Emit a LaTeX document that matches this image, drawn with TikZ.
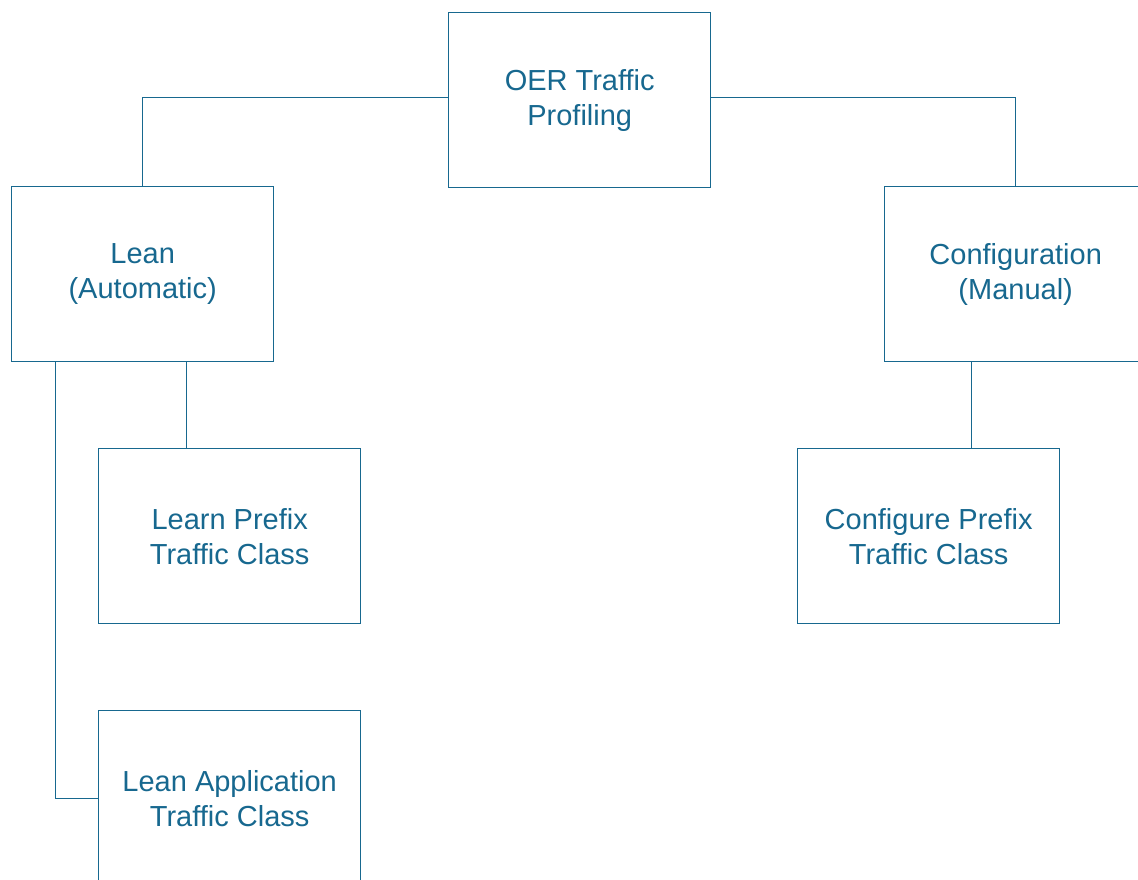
\documentclass[tikz,border=0pt]{standalone}
\usepackage{fontspec}
\usetikzlibrary{calc}
\setmainfont{Liberation Sans}
\definecolor{ink}{HTML}{17688F}
\begin{document}
\begin{tikzpicture}[x=1pt,y=-1pt,
  box/.style={draw=ink,line width=1.4pt,minimum width=262pt,minimum height=175pt,
    inner sep=0pt,anchor=north west,align=center,text=ink,
    font=\fontsize{29}{35}\selectfont},
  link/.style={draw=ink,line width=0.9pt}]
\useasboundingbox (0,0) rectangle (1138,879);
\clip (0,0) rectangle (1138,879);
\node[box] (top) at (448,12) {OER Traffic\\Profiling};
\node[box] (lean) at (11,186) {Lean\\(Automatic)};
\node[box] (conf) at (884,186) {Configuration\\(Manual)};
\node[box] (lpre) at (98,448) {Learn Prefix\\Traffic Class};
\node[box] (lapp) at (98,710) {Lean Application\\Traffic Class};
\node[box] (cpre) at (797,448) {Configure Prefix\\Traffic Class};
% branch points on the lower edges of the two parent boxes
\coordinate (leanA) at ($(lean.south west)+(175,0)$);
\coordinate (leanB) at ($(lean.south west)+(44,0)$);
\coordinate (confA) at ($(conf.south west)+(87,0)$);
\draw[link] ($(top.north west)+(0,85)$) -| (lean.north);
\draw[link] ($(top.north east)+(0,85)$) -| (conf.north);
\draw[link] (leanA) -- (leanA |- lpre.north);
\draw[link] (leanB) |- (lapp.west);
\draw[link] (confA) -- (confA |- cpre.north);
\end{tikzpicture}
\end{document}
